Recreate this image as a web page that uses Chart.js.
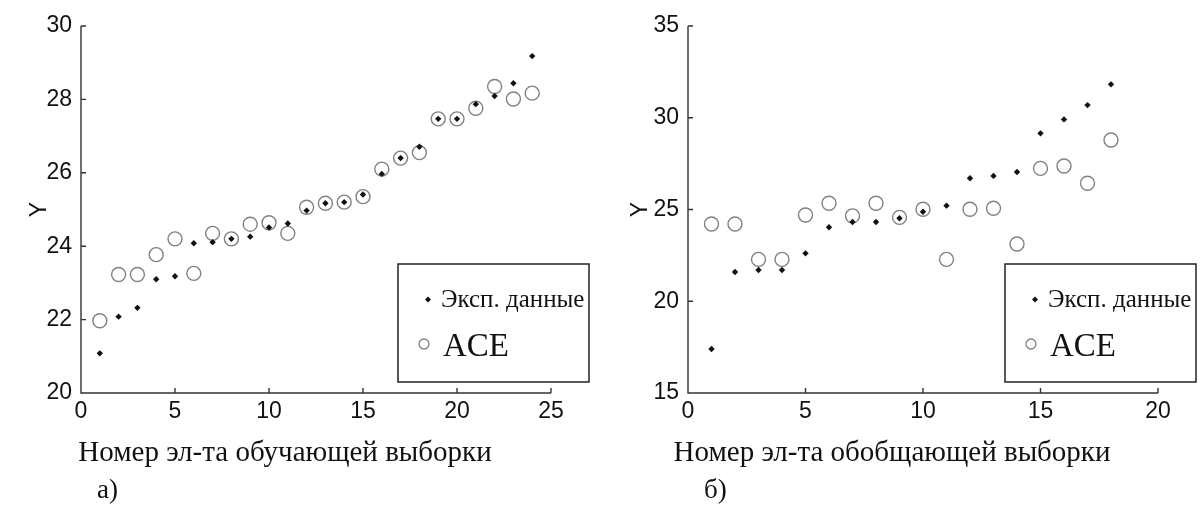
<!DOCTYPE html>
<html lang="ru">
<head>
  <meta charset="UTF-8">
  <title>ACE: обучающая и обобщающая выборки</title>
  <script src="https://cdn.jsdelivr.net/npm/chart.js"></script>
  <style>
    body { margin: 0; background: #fff; }
    .panel { position: absolute; top: 0; }
  </style>
</head>
<body>
  <div class="panel" style="left:0"><canvas id="grafikA" width="600" height="506"></canvas></div>
  <div class="panel" style="left:600px"><canvas id="grafikB" width="603" height="506"></canvas></div>

  <script>
    // а) обучающая выборка
    const nomeraA = [1, 2, 3, 4, 5, 6, 7, 8, 9, 10, 11, 12, 13, 14, 15, 16, 17, 18, 19, 20, 21, 22, 23, 24];
    const eksA = [21.08, 22.08, 22.32, 23.10, 23.18, 24.08, 24.11, 24.20, 24.26, 24.51, 24.62, 24.97,
                  25.17, 25.20, 25.41, 25.97, 26.40, 26.71, 27.47, 27.47, 27.87, 28.09, 28.44, 29.18];
    const aceA = [21.97, 23.23, 23.23, 23.77, 24.20, 23.26, 24.35, 24.20, 24.60, 24.64, 24.35, 25.06,
                  25.17, 25.20, 25.35, 26.10, 26.40, 26.55, 27.47, 27.47, 27.76, 28.35, 28.01, 28.17];
    const tikiXA = [0, 5, 10, 15, 20, 25];
    const tikiYA = [20, 22, 24, 26, 28, 30];

    // б) обобщающая выборка
    const nomeraB = [1, 2, 3, 4, 5, 6, 7, 8, 9, 10, 11, 12, 13, 14, 15, 16, 17, 18];
    const eksB = [17.40, 21.59, 21.70, 21.70, 22.61, 24.03, 24.32, 24.32, 24.52, 24.88, 25.21, 26.70,
                  26.83, 27.04, 29.15, 29.91, 30.69, 31.82];
    const aceB = [24.21, 24.21, 22.28, 22.28, 24.70, 25.34, 24.65, 25.34, 24.57, 25.01, 22.28, 25.01,
                  25.07, 23.12, 27.24, 27.37, 26.43, 28.79];
    const tikiXB = [0, 5, 10, 15, 20];
    const tikiYB = [15, 20, 25, 30, 35];

    const shriftOsi = { family: '"Liberation Sans", Arial, sans-serif', size: 23 };
    const serif = '"Liberation Serif", "Times New Roman", serif';

    // оси без рамки, засечки внутрь, легенда в рамке, подписи снизу
    const oformlenie = {
      id: 'oformlenie',
      afterDraw(chart, args, o) {
        const { ctx, chartArea: ca, scales: { x, y } } = chart;
        ctx.save();
        ctx.strokeStyle = '#333';
        ctx.lineWidth = 1.4;
        ctx.beginPath();
        ctx.moveTo(ca.left, ca.top);
        ctx.lineTo(ca.left, ca.bottom);
        ctx.lineTo(ca.right, ca.bottom);
        x.ticks.forEach(t => {
          const px = x.getPixelForValue(t.value);
          ctx.moveTo(px, ca.bottom);
          ctx.lineTo(px, ca.bottom - 5);
        });
        y.ticks.forEach(t => {
          const py = y.getPixelForValue(t.value);
          ctx.moveTo(ca.left, py);
          ctx.lineTo(ca.left + 5, py);
        });
        ctx.stroke();

        // легенда
        const ds = chart.data.datasets;
        const lx = ca.left + 317, ly = 264, lw = 191, lh = 118;
        ctx.strokeStyle = '#222';
        ctx.lineWidth = 1.5;
        ctx.strokeRect(lx, ly, lw, lh);

        ctx.fillStyle = '#111';
        ctx.beginPath();
        ctx.moveTo(lx + 30, 296.5);
        ctx.lineTo(lx + 33, 299.5);
        ctx.lineTo(lx + 30, 302.5);
        ctx.lineTo(lx + 27, 299.5);
        ctx.closePath();
        ctx.fill();
        ctx.textBaseline = 'alphabetic';
        ctx.textAlign = 'left';
        ctx.font = '25px ' + serif;
        ctx.fillText(ds[0].label, lx + 43, 307);

        ctx.strokeStyle = '#808080';
        ctx.lineWidth = 1.3;
        ctx.beginPath();
        ctx.arc(lx + 26, 344, 5, 0, Math.PI * 2);
        ctx.stroke();
        ctx.font = '33px ' + serif;
        ctx.fillText(ds[1].label, lx + 45, 356);

        // подпись оси X и буква панели
        ctx.textAlign = 'center';
        ctx.font = '29px ' + serif;
        ctx.fillText(o.podpis, ca.left + 204, 461);
        ctx.textAlign = 'left';
        ctx.font = '27px ' + serif;
        ctx.fillText(o.bukva, ca.left + 16, 498);
        ctx.restore();
      }
    };

    function postroit(id, nomera, eks, ace, tikiX, tikiY, shirinaY, pravo, otstupY, podpis, bukva) {
      new Chart(document.getElementById(id), {
        type: 'scatter',
        data: {
          datasets: [
            {
              label: 'Эксп. данные',
              data: nomera.map((n, i) => ({ x: n, y: eks[i] })),
              pointStyle: 'rectRot',
              pointRadius: 3.2,
              backgroundColor: '#111',
              borderWidth: 0
            },
            {
              label: 'ACE',
              data: nomera.map((n, i) => ({ x: n, y: ace[i] })),
              pointStyle: 'circle',
              pointRadius: 7,
              borderColor: '#808080',
              borderWidth: 1.4,
              backgroundColor: 'rgba(0,0,0,0)'
            }
          ]
        },
        options: {
          responsive: false,
          animation: false,
          events: [],
          layout: { padding: { top: 26, left: 0, right: pravo, bottom: 33 } },
          plugins: {
            legend: { display: false },
            tooltip: { enabled: false },
            oformlenie: { podpis, bukva }
          },
          scales: {
            x: {
              type: 'linear',
              min: tikiX[0],
              max: tikiX[tikiX.length - 1],
              afterBuildTicks: s => { s.ticks = tikiX.map(v => ({ value: v })); },
              afterFit: s => { s.height = 80; },
              grid: { display: false, drawTicks: false },
              border: { display: false },
              ticks: { font: shriftOsi, color: '#111', padding: 5, maxRotation: 0, autoSkip: false }
            },
            y: {
              type: 'linear',
              min: tikiY[0],
              max: tikiY[tikiY.length - 1],
              afterBuildTicks: s => { s.ticks = tikiY.map(v => ({ value: v })); },
              afterFit: s => { s.width = shirinaY; },
              grid: { display: false, drawTicks: false },
              border: { display: false },
              ticks: { font: shriftOsi, color: '#111', padding: 9, autoSkip: false },
              title: { display: true, text: 'Y', font: shriftOsi, color: '#111', padding: otstupY }
            }
          }
        },
        plugins: [oformlenie]
      });
    }

    postroit('grafikA', nomeraA, eksA, aceA, tikiXA, tikiYA, 81, 49, 26,
      'Номер эл-та обучающей выборки', 'а)');
    postroit('grafikB', nomeraB, eksB, aceB, tikiXB, tikiYB, 88, 45, 27,
      'Номер эл-та обобщающей выборки', 'б)');
  </script>
</body>
</html>
